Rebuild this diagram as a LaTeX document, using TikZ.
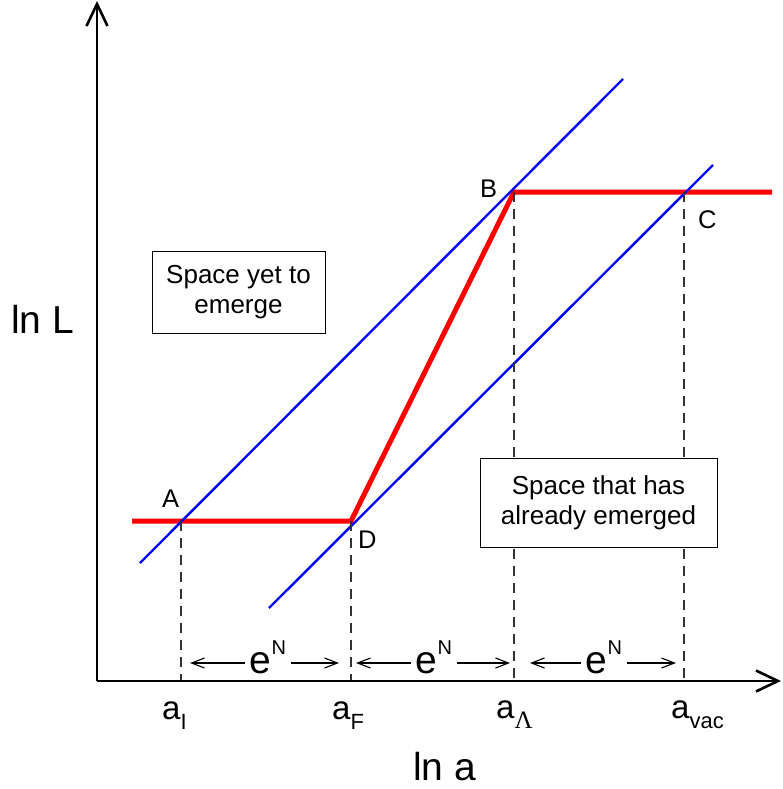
\documentclass[tikz,border=0pt]{standalone}
\usepackage{fontspec}
\setmainfont{Liberation Sans}
\newfontfamily\serifgr{Liberation Serif}
\usetikzlibrary{arrows.meta}
\definecolor{pureRed}{RGB}{255,0,0}
\definecolor{pureBlue}{RGB}{0,0,255}
\begin{document}
\begin{tikzpicture}[x=1pt,y=-1pt,
  axisline/.style={line width=2.6pt, -{Straight Barb[length=22pt,width=21pt]}},
  redline/.style={pureRed, line width=5pt, line join=miter},
  blueline/.style={pureBlue, line width=2.4pt},
  dropline/.style={black!80, line width=1.2pt, dash pattern=on 10pt off 7pt},
  spanarrow/.style={line width=1.1pt, {Straight Barb[length=13pt,width=10pt]}-{Straight Barb[length=13pt,width=10pt]}},
  spanlabel/.style={fill=white, inner xsep=5pt, inner ysep=1pt, font=\fontsize{39}{39}\selectfont},
  ptlabel/.style={anchor=base west, inner sep=0pt, font=\fontsize{25.5}{25.5}\selectfont},
  ticklabel/.style={anchor=base west, inner sep=0pt, font=\fontsize{33}{33}\selectfont},
  axislabel/.style={anchor=base west, inner sep=0pt, font=\fontsize{39}{39}\selectfont},
  textbox/.style={draw, line width=1pt, fill=white, align=center, inner sep=0pt, font=\fontsize{26}{30}\selectfont}
]
\useasboundingbox (0,0) rectangle (783,789);

% key points
\coordinate (O) at (97,681);
\coordinate (ytip) at (97,1);
\coordinate (xtip) at (781,681);
\coordinate (A) at (181,521);
\coordinate (D) at (351,521);
\coordinate (B) at (514,192);
\coordinate (C) at (684,192);
\coordinate (Rl) at (132,521);
\coordinate (Rr) at (772,192);
\coordinate (b1s) at (140,563);
\coordinate (b1e) at (623,79);
\coordinate (b2s) at (269,608);
\coordinate (b2e) at (713,165);
\coordinate (fA) at (181,681);
\coordinate (fD) at (351,681);
\coordinate (fB) at (514,681);
\coordinate (fC) at (684,681);

% red path
\draw[redline] (Rl) -- (D) -- (B) -- (Rr);

% blue lines
\draw[blueline] (b1s) -- (b1e);
\draw[blueline] (b2s) -- (b2e);

% dashed drop lines
\draw[dropline] (A) -- (fA);
\draw[dropline] (D) -- (fD);
\draw[dropline] (B) -- (fB);
\draw[dropline] (C) -- (fC);

% boxes
\node[textbox, minimum width=173pt, minimum height=82pt] (yet) at (238.5,292) {Space yet to\\emerge};
\node[textbox, minimum width=237pt, minimum height=89pt] (already) at (598.5,502.5) {Space that has\\already emerged};

% span arrows
\coordinate (s1l) at (190,663);
\coordinate (s1r) at (339,663);
\coordinate (s2l) at (356,663);
\coordinate (s2r) at (510,663);
\coordinate (s3l) at (530,663);
\coordinate (s3r) at (676,663);
\draw[spanarrow] (s1l) -- (s1r);
\draw[spanarrow] (s2l) -- (s2r);
\draw[spanarrow] (s3l) -- (s3r);
\node[spanlabel, anchor=base] (e1) at (268,673) {e\raisebox{19pt}{\fontsize{20}{20}\selectfont N}};
\node[spanlabel, anchor=base] (e2) at (434,673) {e\raisebox{19pt}{\fontsize{20}{20}\selectfont N}};
\node[spanlabel, anchor=base] (e3) at (604,673) {e\raisebox{19pt}{\fontsize{20}{20}\selectfont N}};

% axes
\draw[axisline] (O) -- (ytip);
\draw[axisline] (O) -- (xtip);

% point labels
\node[ptlabel] (lA) at (162,507) {A};
\node[ptlabel] (lB) at (480,197) {B};
\node[ptlabel] (lC) at (698,228) {C};
\node[ptlabel] (lD) at (358,548) {D};

% tick labels
\node[ticklabel] (aI) at (162,719) {a\raisebox{-10pt}{\fontsize{22}{22}\selectfont I}};
\node[ticklabel] (aF) at (332,719) {a\raisebox{-10pt}{\fontsize{22}{22}\selectfont F}};
\node[ticklabel] (aL) at (496,718) {a\raisebox{-10pt}{\fontsize{25}{25}\selectfont\serifgr Λ}};
\node[ticklabel] (av) at (671,718) {a\raisebox{-10pt}{\fontsize{22}{22}\selectfont vac}};

% axis labels
\node[axislabel] (lnL) at (11,333) {ln L};
\node[axislabel] (lna) at (413,780) {ln a};
\end{tikzpicture}
\end{document}
